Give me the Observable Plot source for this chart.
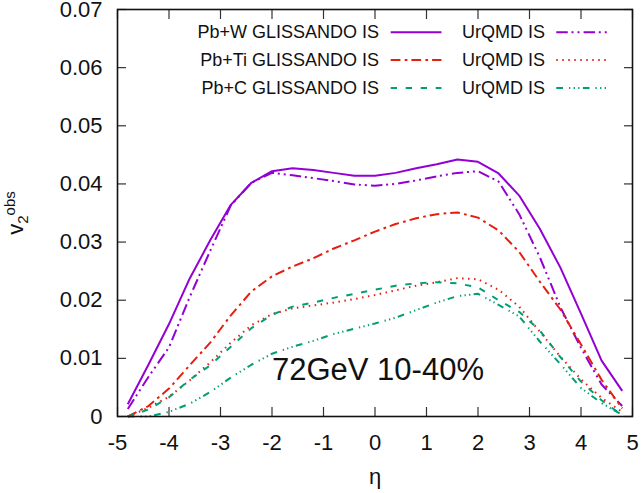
<!DOCTYPE html>
<html>
<head>
<meta charset="utf-8">
<script src="https://cdn.jsdelivr.net/npm/d3@7"></script>
<script src="https://cdn.jsdelivr.net/npm/@observablehq/plot@0.6"></script>
<style>
  html, body { margin: 0; padding: 0; background: #fff; overflow: hidden; }
</style>
</head>
<body>
<div id="chart"></div>
<script>
// Pseudorapidity grid shared by all curves
const eta = [-4.8, -4.4, -4.0, -3.6, -3.2, -2.8, -2.4, -2.0, -1.6, -1.2, -0.8, -0.4,
             0.0, 0.4, 0.8, 1.2, 1.6, 2.0, 2.4, 2.8, 3.2, 3.6, 4.0, 4.4, 4.8];

// v2^obs for each system and initial-state model
const wGlissando  = [0.0021, 0.0089, 0.0159, 0.0237, 0.0303, 0.0364, 0.0402, 0.0422, 0.0427, 0.0424, 0.0419, 0.0414,
                     0.0414, 0.0419, 0.0427, 0.0434, 0.0442, 0.0438, 0.0418, 0.0380, 0.0323, 0.0256, 0.0177, 0.0096, 0.0044];
const wUrqmd      = [0.0013, 0.0068, 0.0119, 0.0205, 0.0285, 0.0363, 0.0402, 0.0419, 0.0415, 0.0410, 0.0405, 0.0399,
                     0.0397, 0.0400, 0.0406, 0.0413, 0.0419, 0.0422, 0.0404, 0.0348, 0.0274, 0.0188, 0.0118, 0.0055, 0.0018];
const tiGlissando = [0.0000, 0.0018, 0.0048, 0.0088, 0.0127, 0.0174, 0.0215, 0.0241, 0.0258, 0.0272, 0.0289, 0.0303,
                     0.0318, 0.0331, 0.0341, 0.0348, 0.0351, 0.0342, 0.0320, 0.0283, 0.0232, 0.0184, 0.0124, 0.0063, 0.0014];
const tiUrqmd     = [0.0000, 0.0015, 0.0034, 0.0062, 0.0093, 0.0127, 0.0157, 0.0176, 0.0186, 0.0191, 0.0196, 0.0202,
                     0.0209, 0.0217, 0.0225, 0.0231, 0.0238, 0.0236, 0.0218, 0.0189, 0.0146, 0.0103, 0.0064, 0.0032, 0.0008];
const cGlissando  = [0.0000, 0.0012, 0.0033, 0.0063, 0.0088, 0.0120, 0.0152, 0.0175, 0.0189, 0.0196, 0.0204, 0.0211,
                     0.0218, 0.0225, 0.0229, 0.0231, 0.0229, 0.0222, 0.0200, 0.0180, 0.0148, 0.0102, 0.0060, 0.0028, 0.0002];
const cUrqmd      = [0.0000, 0.0000, 0.0008, 0.0022, 0.0042, 0.0067, 0.0089, 0.0108, 0.0120, 0.0130, 0.0142, 0.0151,
                     0.0160, 0.0170, 0.0183, 0.0196, 0.0207, 0.0211, 0.0192, 0.0172, 0.0129, 0.0090, 0.0049, 0.0023, 0.0003];

// Axis ticks and labels
const xTicks = [-5, -4, -3, -2, -1, 0, 1, 2, 3, 4, 5];
const yTicks = [0, 0.01, 0.02, 0.03, 0.04, 0.05, 0.06, 0.07];
const xLabel = "η";
const annotation = "72GeV 10-40%";

// Legend entries, in the same order as the series below
const legendLabels = ["Pb+W GLISSANDO IS", "UrQMD IS",
                      "Pb+Ti GLISSANDO IS", "UrQMD IS",
                      "Pb+C GLISSANDO IS", "UrQMD IS"];

// Line styles (gnuplot-like palette and dash types)
const styles = [
  {color: "#9400d3", dash: null},
  {color: "#9400d3", dash: "11.5,3.7,2,4,2,4.1"},
  {color: "#e51e10", dash: "9.7,4.3,2.7,4"},
  {color: "#e51e10", dash: "1.5,4.5"},
  {color: "#009e73", dash: "6.3,8.7"},
  {color: "#009e73", dash: "6.7,6,1.3,3.3,1.3,3.3,1.3,3.3"}
];
const seriesValues = [wGlissando, wUrqmd, tiGlissando, tiUrqmd, cGlissando, cUrqmd];

// Key placement (graph coordinates): two columns, three rows
const key = {
  textX: [0.08, 3.30],
  sampleX: [[0.305, 1.29], [3.52, 4.50]],
  rowY: [0.0661, 0.0613, 0.0565]
};
const annotationAt = {x: -2, y: 0.008};

const series = seriesValues.map((values, i) => ({
  label: legendLabels[i],
  color: styles[i].color,
  dash: styles[i].dash,
  rows: eta.map((e, j) => ({eta: e, v: values[j]})),
  col: i % 2,
  row: Math.floor(i / 2)
}));

const lineMarks = series.map(s =>
  Plot.line(s.rows, {
    x: "eta", y: "v",
    stroke: s.color, strokeWidth: 2,
    strokeDasharray: s.dash, strokeLinecap: "butt", strokeLinejoin: "round"
  })
);

const keyEntries = series.map(s => ({
  label: s.label,
  color: s.color,
  dash: s.dash,
  tx: key.textX[s.col],
  x1: key.sampleX[s.col][0],
  x2: key.sampleX[s.col][1],
  y: key.rowY[s.row]
}));

const keyMarks = keyEntries.flatMap(k => [
  Plot.text([k], {x: "tx", y: "y", text: "label", textAnchor: "end", fontSize: 18, fill: "#111"}),
  Plot.link([k], {x1: "x1", x2: "x2", y1: "y", y2: "y", stroke: k.color, strokeWidth: 2,
                  strokeDasharray: k.dash, strokeLinecap: "butt"})
]);

const plot = Plot.plot({
  width: 641,
  height: 493,
  marginLeft: 117,
  marginRight: 9,
  marginTop: 9,
  marginBottom: 77,
  x: {domain: [-5, 5], label: null},
  y: {domain: [0, 0.07], label: null},
  style: {fontFamily: "'Liberation Sans', Arial, sans-serif", fontSize: "22px", color: "#111", background: "#fff", overflow: "visible"},
  marks: [
    ...lineMarks,
    ...keyMarks,
    Plot.text([{x: annotationAt.x, y: annotationAt.y, t: annotation}],
              {x: "x", y: "y", text: "t", textAnchor: "start", fontSize: 31, fill: "#111"}),
    // tick labels
    Plot.axisX(xTicks, {anchor: "bottom", tickSize: 0, tickPadding: 18, fontSize: 22, label: null,
                        tickFormat: d => String(d)}),
    Plot.axisY(yTicks, {anchor: "left", tickSize: 0, tickPadding: 15, fontSize: 22, label: null,
                        tickFormat: d => String(d)}),
    // inward ticks on all four sides
    Plot.axisX(xTicks, {anchor: "bottom", tickSize: -9, fill: "none", stroke: "#333", strokeWidth: 1.2, label: null}),
    Plot.axisX(xTicks, {anchor: "top", tickSize: -9, fill: "none", stroke: "#333", strokeWidth: 1.2, label: null}),
    Plot.axisY(yTicks, {anchor: "left", tickSize: -9, fill: "none", stroke: "#333", strokeWidth: 1.2, label: null}),
    Plot.axisY(yTicks, {anchor: "right", tickSize: -9, fill: "none", stroke: "#333", strokeWidth: 1.2, label: null}),
    Plot.frame({stroke: "#111", strokeWidth: 1.6}),
    Plot.text([xLabel], {frameAnchor: "bottom", lineAnchor: "middle", dy: 60, fontSize: 22, fill: "#111"})
  ]
});

// y-axis title with subscript and superscript
const svg = d3.select(plot);
const yTitle = svg.append("text")
  .attr("transform", "translate(23,213) rotate(-90)")
  .attr("text-anchor", "middle")
  .attr("font-size", 22)
  .attr("fill", "#111");
yTitle.append("tspan").text("v");
yTitle.append("tspan").attr("font-size", 15).attr("dy", 5).text("2");
yTitle.append("tspan").attr("font-size", 15).attr("dy", -13).text("obs");

document.getElementById("chart").append(plot);
</script>
</body>
</html>
